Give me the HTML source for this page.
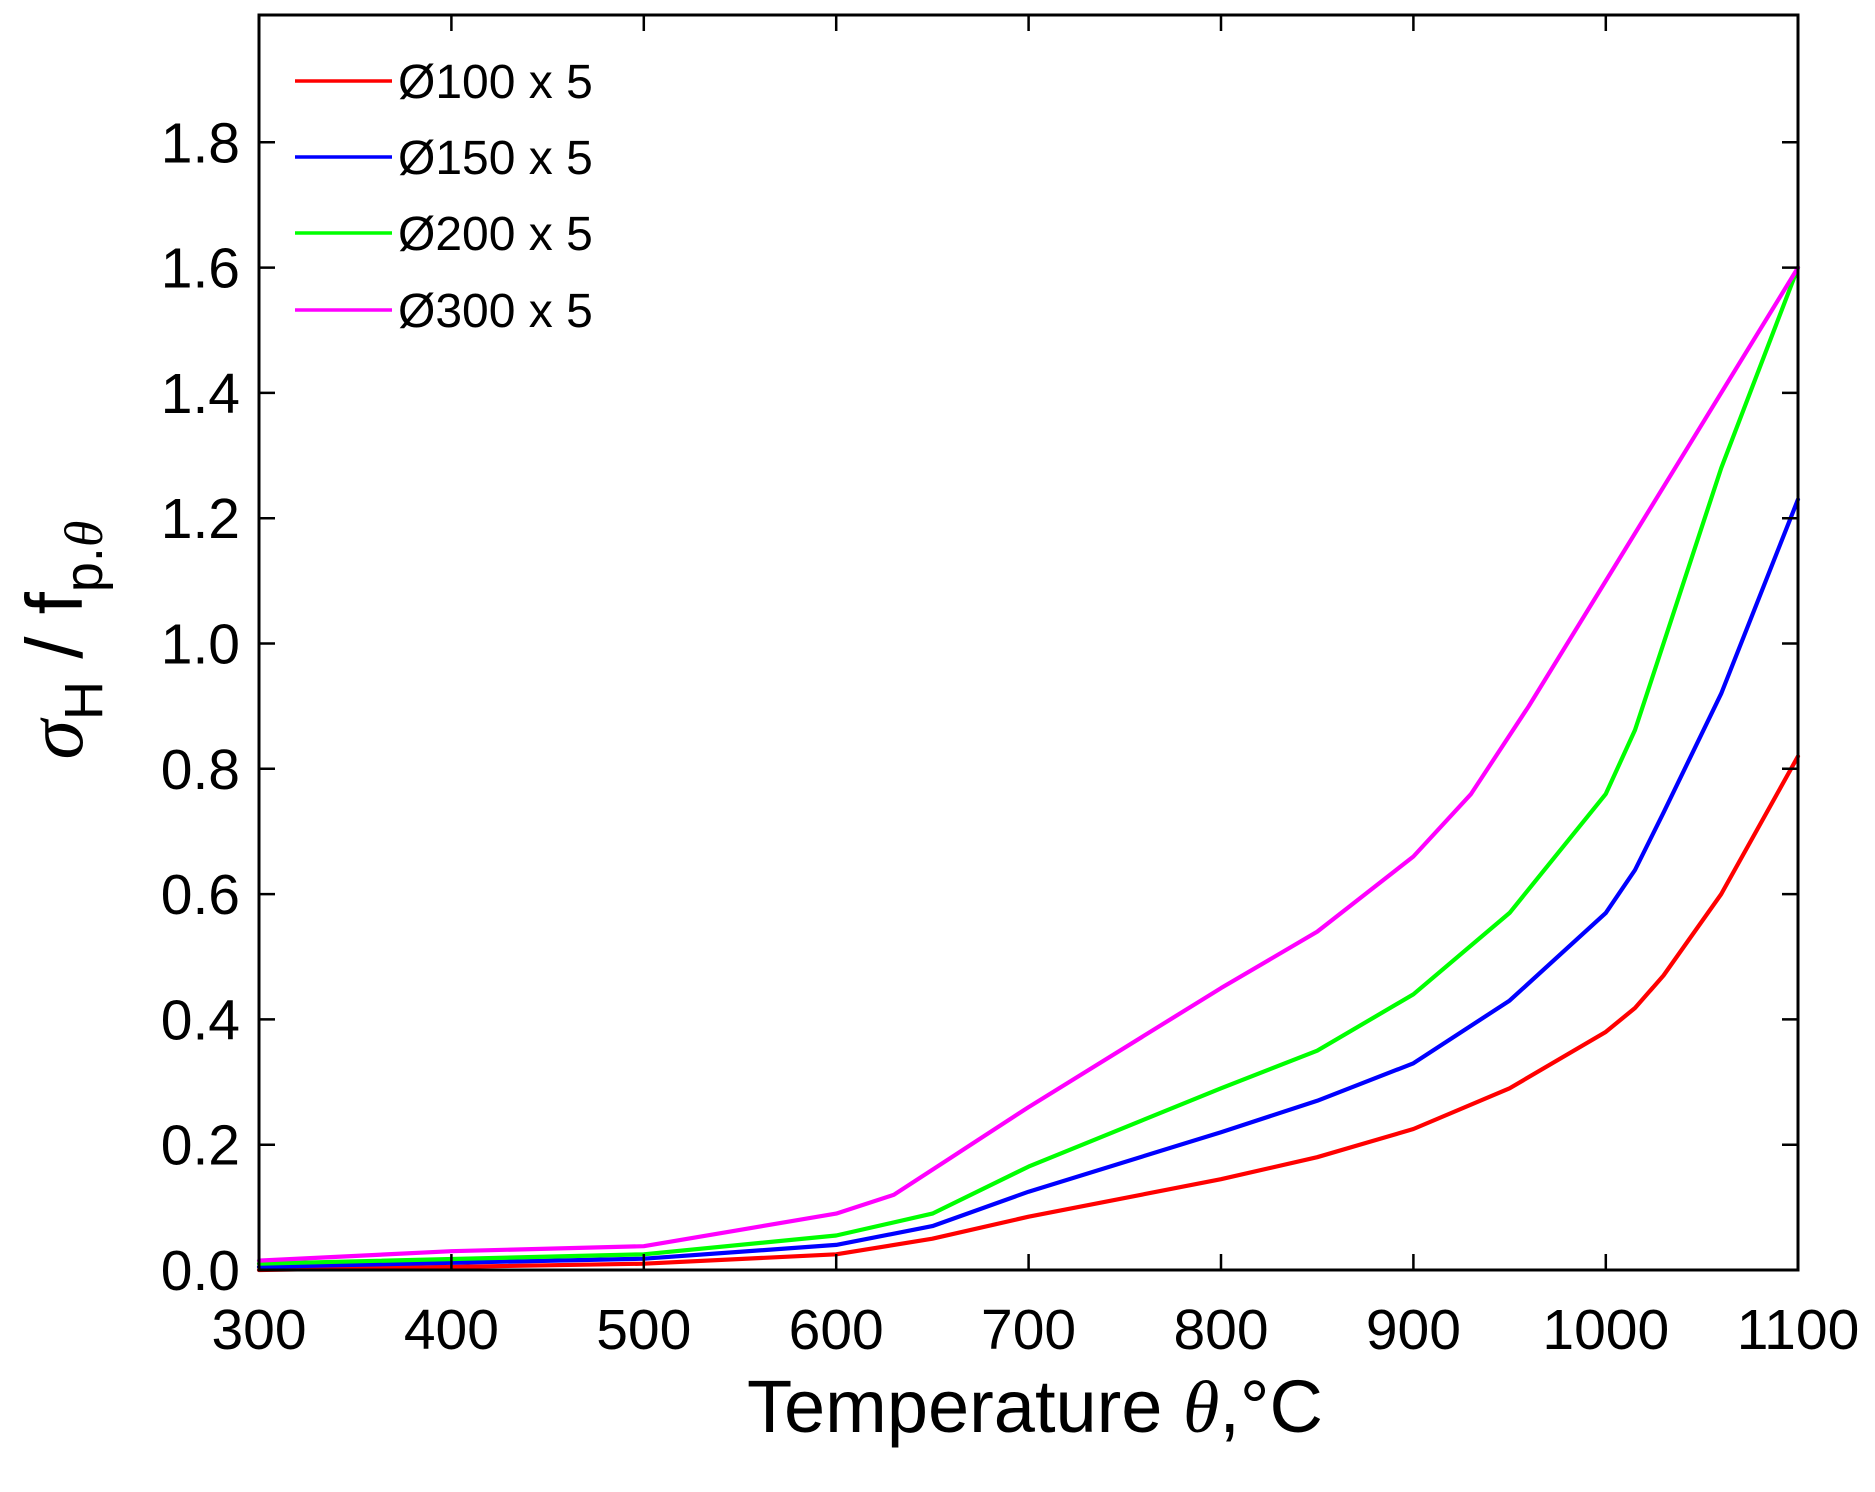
<!DOCTYPE html>
<html><head><style>body{margin:0;background:#fff}svg{display:block}</style></head><body>
<svg width="1875" height="1492" xmlns="http://www.w3.org/2000/svg" font-family="Liberation Sans, DejaVu Sans, sans-serif">
<g fill="none" stroke-width="4.2" stroke-linejoin="round" stroke-linecap="round">
<polyline stroke="#f00" points="259,1270 451.4,1266.9 643.8,1263.7 836.2,1254.3 932.4,1238.7 1028.6,1216.7 1221,1179.2 1317.2,1157.2 1413.4,1129 1509.6,1088.3 1605.8,1031.9 1635,1008 1663.5,975.5 1721.2,894.1 1798,756.3"/>
<polyline stroke="#00f" points="259,1266.9 643.8,1258.7 836.2,1244.9 932.4,1226.1 1028.6,1191.7 1221,1132.2 1317.2,1100.8 1413.4,1063.3 1509.6,1000.6 1605.8,912.9 1635,870 1663.5,812.7 1721.2,693.6 1798,499.4"/>
<polyline stroke="#0f0" points="259,1263.7 643.8,1254.3 836.2,1235.5 932.4,1213.6 1028.6,1166.6 1221,1088.3 1317.2,1050.7 1413.4,994.3 1509.6,912.9 1605.8,793.9 1635,730 1663.5,643.5 1721.2,468.1 1798,267.6"/>
<polyline stroke="#f0f" points="259,1260.6 451.4,1251.2 643.8,1246.2 836.2,1213.6 893.9,1194.8 951.6,1157.2 1028.6,1107.1 1221,988.1 1317.2,931.7 1413.4,856.5 1471.1,793.9 1528.8,706.1 1605.8,580.9 1702,424.2 1798,267.6"/>
</g>
<rect x="259" y="15" width="1539" height="1255" fill="none" stroke="#000" stroke-width="3"/>
<g stroke="#000" stroke-width="2.5">
<path d="M451.4,1270v-16M643.8,1270v-16M836.2,1270v-16M1028.6,1270v-16M1221,1270v-16M1413.4,1270v-16M1605.8,1270v-16M451.4,15v16M643.8,15v16M836.2,15v16M1028.6,15v16M1221,15v16M1413.4,15v16M1605.8,15v16"/>
<path d="M259,1144.7h16M259,1019.4h16M259,894.1h16M259,768.8h16M259,643.5h16M259,518.2h16M259,392.9h16M259,267.6h16M259,142.3h16M1798,1144.7h-16M1798,1019.4h-16M1798,894.1h-16M1798,768.8h-16M1798,643.5h-16M1798,518.2h-16M1798,392.9h-16M1798,267.6h-16M1798,142.3h-16"/>
</g>
<g font-size="57" fill="#000" text-anchor="end">
<text x="240" y="1290">0.0</text><text x="240" y="1164.7">0.2</text><text x="240" y="1039.4">0.4</text><text x="240" y="914.1">0.6</text><text x="240" y="788.8">0.8</text><text x="240" y="663.5">1.0</text><text x="240" y="538.2">1.2</text><text x="240" y="412.9">1.4</text><text x="240" y="287.6">1.6</text><text x="240" y="162.3">1.8</text>
</g>
<g font-size="57" fill="#000" text-anchor="middle">
<text x="259" y="1349">300</text><text x="451.4" y="1349">400</text><text x="643.8" y="1349">500</text><text x="836.2" y="1349">600</text><text x="1028.6" y="1349">700</text><text x="1221" y="1349">800</text><text x="1413.4" y="1349">900</text><text x="1605.8" y="1349">1000</text><text x="1798" y="1349">1100</text>
</g>
<text x="1035" y="1432" font-size="74" text-anchor="middle">Temperature <tspan font-style="italic" font-family="Liberation Serif, serif">θ</tspan>,°C</text>
<text transform="translate(82,640) rotate(-90)" font-size="80" text-anchor="middle"><tspan font-style="italic" font-family="Liberation Serif, serif">σ</tspan><tspan font-size="54" dy="20">H</tspan><tspan dy="-20"> / f</tspan><tspan font-size="54" dy="20">p.<tspan font-style="italic" font-family="Liberation Serif, serif">θ</tspan></tspan></text>
<g font-size="48">
<line x1="295" y1="81" x2="392" y2="81" stroke="#f00" stroke-width="3.5"/><text x="398" y="98">Ø100 x 5</text>
<line x1="295" y1="157" x2="392" y2="157" stroke="#00f" stroke-width="3.5"/><text x="398" y="174">Ø150 x 5</text>
<line x1="295" y1="233" x2="392" y2="233" stroke="#0f0" stroke-width="3.5"/><text x="398" y="250">Ø200 x 5</text>
<line x1="295" y1="310" x2="392" y2="310" stroke="#f0f" stroke-width="3.5"/><text x="398" y="327">Ø300 x 5</text>
</g>
</svg>
</body></html>
